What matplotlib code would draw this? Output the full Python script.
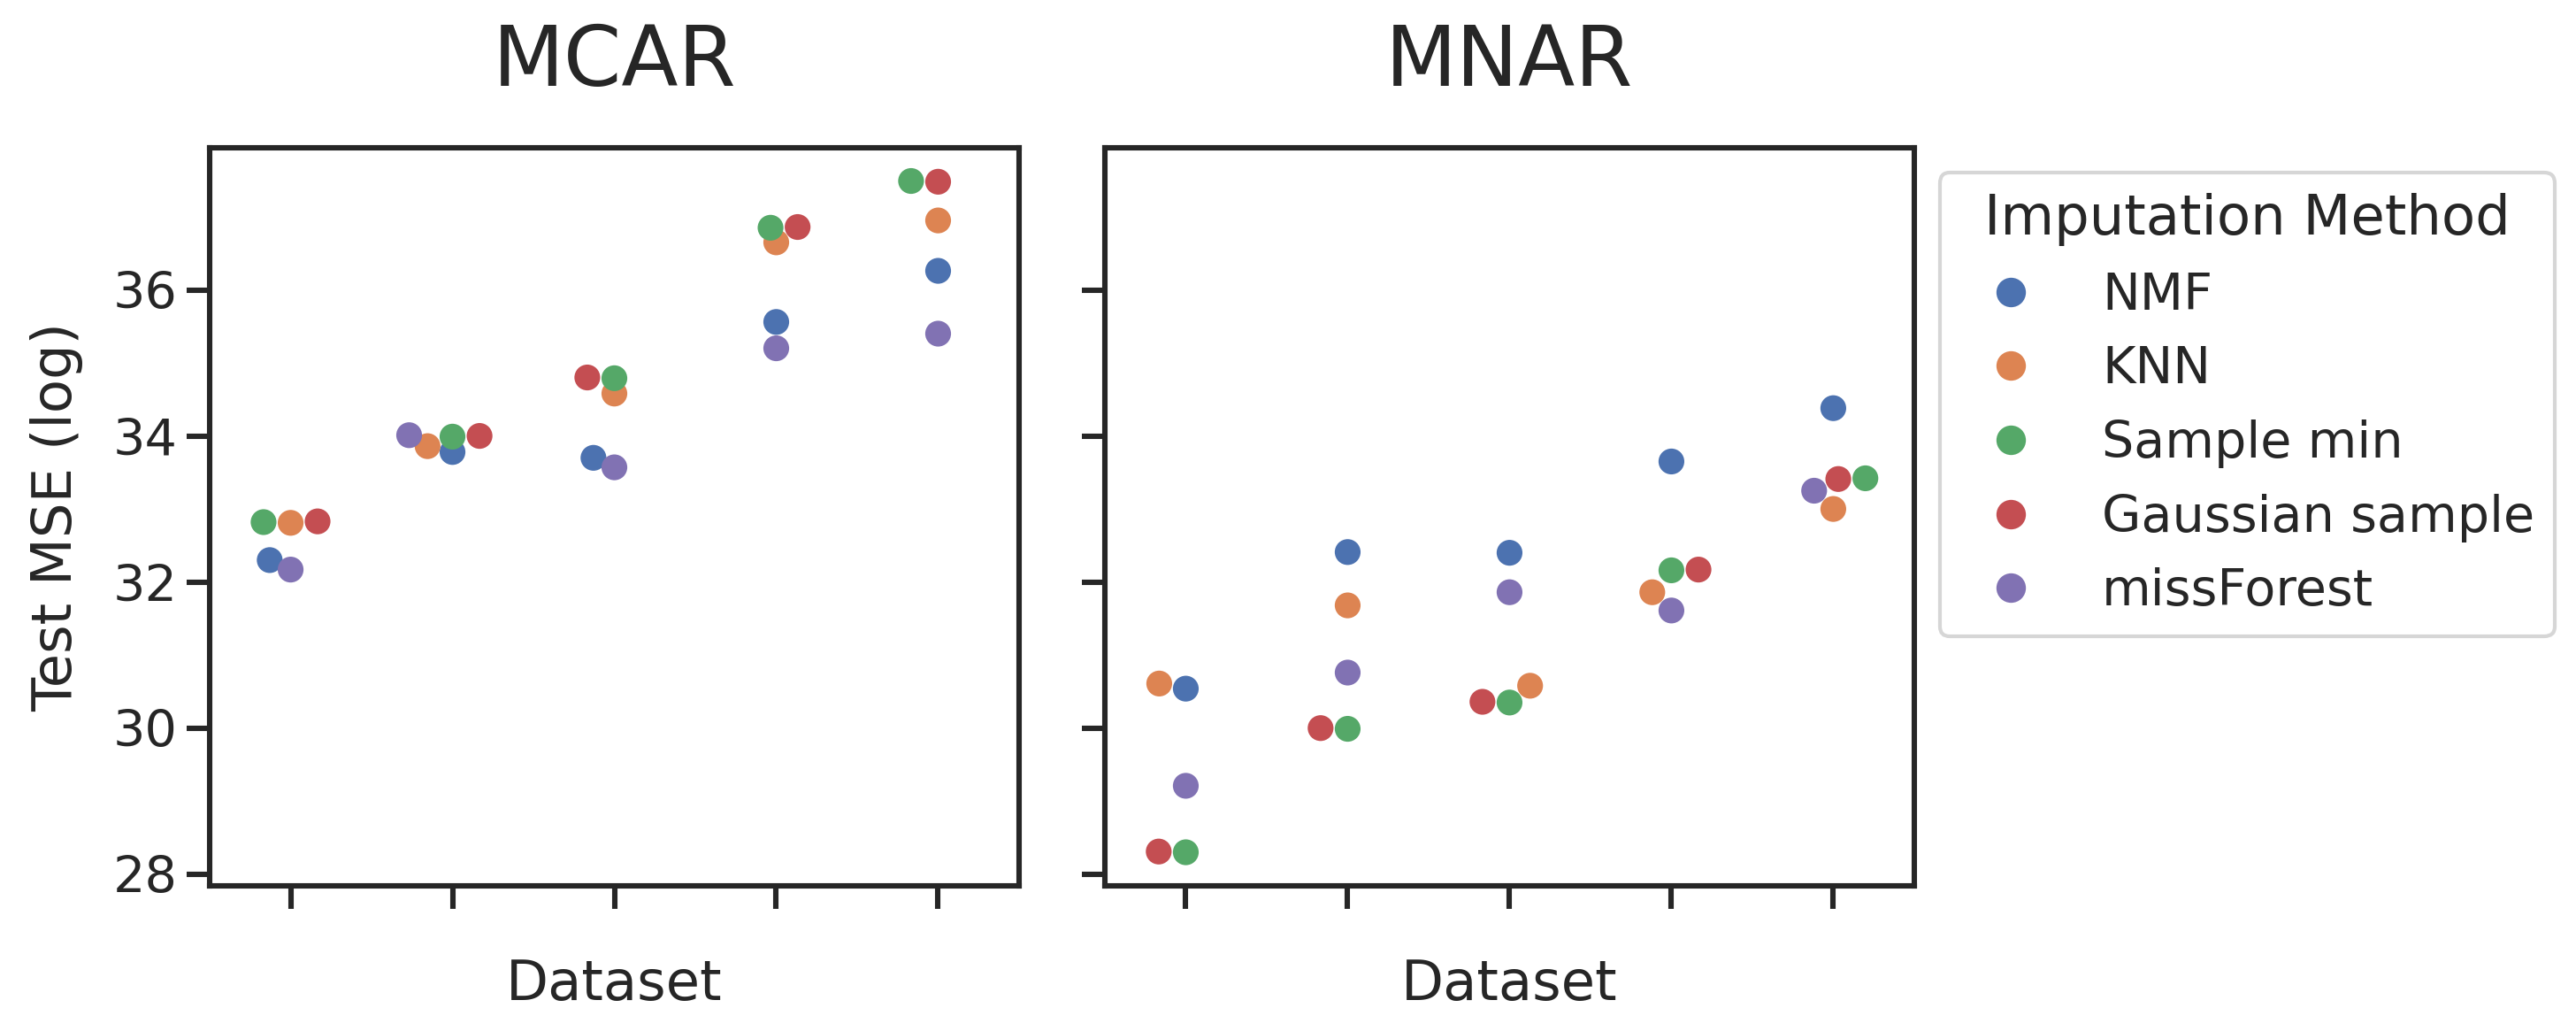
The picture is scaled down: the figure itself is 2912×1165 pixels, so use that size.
"""Test MSE per imputation method, MCAR vs MNAR, as swarm plots."""

import numpy as np
import pandas as pd
import matplotlib
matplotlib.use("Agg")
import matplotlib.pyplot as plt
import seaborn as sns

METHODS = ["NMF", "KNN", "Sample min", "Gaussian sample", "missForest"]
DATASETS = ["D1", "D2", "D3", "D4", "D5"]

# Test MSE (log), one value per dataset
mcar_nmf = [32.30, 33.78, 33.70, 35.56, 36.26]
mcar_knn = [32.81, 33.86, 34.58, 36.65, 36.95]
mcar_min = [32.82, 33.99, 34.79, 36.85, 37.49]
mcar_gauss = [32.83, 34.00, 34.80, 36.86, 37.48]
mcar_mf = [32.17, 34.01, 33.57, 35.20, 35.40]

mnar_nmf = [30.54, 32.41, 32.40, 33.65, 34.38]
mnar_knn = [30.61, 31.68, 30.58, 31.86, 33.00]
mnar_min = [28.30, 29.99, 30.35, 32.16, 33.42]
mnar_gauss = [28.31, 30.00, 30.36, 32.17, 33.41]
mnar_mf = [29.21, 30.76, 31.86, 31.61, 33.25]


def to_frame(series):
    rows = []
    for method, values in zip(METHODS, series):
        for ds, v in zip(DATASETS, values):
            rows.append({"Dataset": ds, "Test MSE (log)": v,
                         "Imputation Method": method})
    return pd.DataFrame(rows)


df_mcar = to_frame([mcar_nmf, mcar_knn, mcar_min, mcar_gauss, mcar_mf])
df_mnar = to_frame([mnar_nmf, mnar_knn, mnar_min, mnar_gauss, mnar_mf])

sns.set_theme(style="ticks", context="talk", font_scale=1.25)
plt.rcParams["font.family"] = ["DejaVu Sans"]
plt.rcParams.update({
    "axes.linewidth": 2.2,
    "xtick.major.width": 2.2,
    "ytick.major.width": 2.2,
    "xtick.major.size": 9.5,
    "ytick.major.size": 9.5,
})

fig, axes = plt.subplots(1, 2, figsize=(14.56, 5.825), dpi=200, sharey=True)
fig.subplots_adjust(left=0.0814, right=0.7431, bottom=0.1408, top=0.857,
                    wspace=0.106)

kw = dict(x="Dataset", y="Test MSE (log)", hue="Imputation Method",
          order=DATASETS, hue_order=METHODS, palette="deep", size=10.5)

sns.swarmplot(data=df_mcar, ax=axes[0], legend=False, **kw)
# lay the MCAR swarm out on its own y range, then keep it fixed
fig.canvas.draw()
for coll in axes[0].collections:
    coll.__dict__.pop("draw", None)

sns.swarmplot(data=df_mnar, ax=axes[1], **kw)
sns.move_legend(axes[1], "upper left", bbox_to_anchor=(1, 1))

# slightly bigger legend dots
leg = axes[1].get_legend()
for h in leg.legend_handles:
    if hasattr(h, "set_markersize"):
        h.set_markersize(12)
    elif hasattr(h, "set_sizes"):
        h.set_sizes([144])

for ax, title in zip(axes, ["MCAR", "MNAR"]):
    ax.set_title(title, fontsize=33.75, pad=25)
    ax.set_xlabel("Dataset", labelpad=20)
    ax.tick_params(axis="x", labelbottom=False)
axes[0].set_ylabel("Test MSE (log)", labelpad=12)
axes[1].set_ylabel("")

fig.savefig("out.png", dpi=200)
